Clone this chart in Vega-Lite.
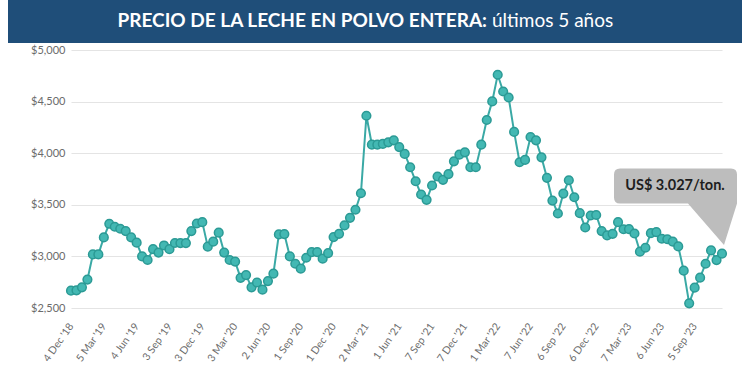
{
  "$schema": "https://vega.github.io/schema/vega-lite/v6.json",
  "padding": {"left": 8, "top": 0, "right": 0, "bottom": 0},
  "spacing": 1,
  "config": {"view": {"stroke": null}, "font": "Lato"},
  "datasets": {
    "leche": [
      {"fecha": "4 Dec '18", "precio": 2668},
      {"fecha": "18 Dec '18", "precio": 2671},
      {"fecha": "1 Jan '19", "precio": 2700},
      {"fecha": "15 Jan '19", "precio": 2775},
      {"fecha": "5 Feb '19", "precio": 3019},
      {"fecha": "19 Feb '19", "precio": 3019},
      {"fecha": "5 Mar '19", "precio": 3184},
      {"fecha": "19 Mar '19", "precio": 3316},
      {"fecha": "2 Apr '19", "precio": 3287},
      {"fecha": "16 Apr '19", "precio": 3268},
      {"fecha": "7 May '19", "precio": 3245},
      {"fecha": "21 May '19", "precio": 3184},
      {"fecha": "4 Jun '19", "precio": 3133},
      {"fecha": "18 Jun '19", "precio": 3000},
      {"fecha": "2 Jul '19", "precio": 2965},
      {"fecha": "16 Jul '19", "precio": 3070},
      {"fecha": "6 Aug '19", "precio": 3037},
      {"fecha": "20 Aug '19", "precio": 3106},
      {"fecha": "3 Sep '19", "precio": 3070},
      {"fecha": "17 Sep '19", "precio": 3130},
      {"fecha": "1 Oct '19", "precio": 3129},
      {"fecha": "15 Oct '19", "precio": 3129},
      {"fecha": "5 Nov '19", "precio": 3245},
      {"fecha": "19 Nov '19", "precio": 3319},
      {"fecha": "3 Dec '19", "precio": 3332},
      {"fecha": "17 Dec '19", "precio": 3094},
      {"fecha": "7 Jan '20", "precio": 3143},
      {"fecha": "21 Jan '20", "precio": 3230},
      {"fecha": "4 Feb '20", "precio": 3037},
      {"fecha": "18 Feb '20", "precio": 2965},
      {"fecha": "3 Mar '20", "precio": 2950},
      {"fecha": "17 Mar '20", "precio": 2792},
      {"fecha": "7 Apr '20", "precio": 2819},
      {"fecha": "21 Apr '20", "precio": 2700},
      {"fecha": "5 May '20", "precio": 2747},
      {"fecha": "19 May '20", "precio": 2678},
      {"fecha": "2 Jun '20", "precio": 2761},
      {"fecha": "16 Jun '20", "precio": 2833},
      {"fecha": "7 Jul '20", "precio": 3213},
      {"fecha": "21 Jul '20", "precio": 3216},
      {"fecha": "4 Aug '20", "precio": 3000},
      {"fecha": "18 Aug '20", "precio": 2929},
      {"fecha": "1 Sep '20", "precio": 2881},
      {"fecha": "15 Sep '20", "precio": 2987},
      {"fecha": "6 Oct '20", "precio": 3042},
      {"fecha": "20 Oct '20", "precio": 3042},
      {"fecha": "3 Nov '20", "precio": 2978},
      {"fecha": "17 Nov '20", "precio": 3032},
      {"fecha": "1 Dec '20", "precio": 3187},
      {"fecha": "15 Dec '20", "precio": 3219},
      {"fecha": "5 Jan '21", "precio": 3300},
      {"fecha": "19 Jan '21", "precio": 3374},
      {"fecha": "2 Feb '21", "precio": 3452},
      {"fecha": "16 Feb '21", "precio": 3612},
      {"fecha": "2 Mar '21", "precio": 4363},
      {"fecha": "16 Mar '21", "precio": 4083},
      {"fecha": "6 Apr '21", "precio": 4083},
      {"fecha": "20 Apr '21", "precio": 4090},
      {"fecha": "4 May '21", "precio": 4105},
      {"fecha": "18 May '21", "precio": 4125},
      {"fecha": "1 Jun '21", "precio": 4059},
      {"fecha": "15 Jun '21", "precio": 3993},
      {"fecha": "6 Jul '21", "precio": 3864},
      {"fecha": "20 Jul '21", "precio": 3728},
      {"fecha": "3 Aug '21", "precio": 3600},
      {"fecha": "17 Aug '21", "precio": 3548},
      {"fecha": "7 Sep '21", "precio": 3687},
      {"fecha": "21 Sep '21", "precio": 3774},
      {"fecha": "5 Oct '21", "precio": 3742},
      {"fecha": "19 Oct '21", "precio": 3798},
      {"fecha": "2 Nov '21", "precio": 3921},
      {"fecha": "16 Nov '21", "precio": 3986},
      {"fecha": "7 Dec '21", "precio": 4008},
      {"fecha": "21 Dec '21", "precio": 3864},
      {"fecha": "4 Jan '22", "precio": 3864},
      {"fecha": "18 Jan '22", "precio": 4083},
      {"fecha": "1 Feb '22", "precio": 4322},
      {"fecha": "15 Feb '22", "precio": 4502},
      {"fecha": "1 Mar '22", "precio": 4760},
      {"fecha": "15 Mar '22", "precio": 4598},
      {"fecha": "5 Apr '22", "precio": 4540},
      {"fecha": "19 Apr '22", "precio": 4206},
      {"fecha": "3 May '22", "precio": 3912},
      {"fecha": "17 May '22", "precio": 3935},
      {"fecha": "7 Jun '22", "precio": 4157},
      {"fecha": "21 Jun '22", "precio": 4125},
      {"fecha": "5 Jul '22", "precio": 3960},
      {"fecha": "19 Jul '22", "precio": 3761},
      {"fecha": "2 Aug '22", "precio": 3541},
      {"fecha": "16 Aug '22", "precio": 3416},
      {"fecha": "6 Sep '22", "precio": 3609},
      {"fecha": "20 Sep '22", "precio": 3738},
      {"fecha": "4 Oct '22", "precio": 3573},
      {"fecha": "18 Oct '22", "precio": 3419},
      {"fecha": "1 Nov '22", "precio": 3280},
      {"fecha": "15 Nov '22", "precio": 3396},
      {"fecha": "6 Dec '22", "precio": 3401},
      {"fecha": "20 Dec '22", "precio": 3245},
      {"fecha": "3 Jan '23", "precio": 3203},
      {"fecha": "17 Jan '23", "precio": 3219},
      {"fecha": "7 Feb '23", "precio": 3332},
      {"fecha": "21 Feb '23", "precio": 3263},
      {"fecha": "7 Mar '23", "precio": 3264},
      {"fecha": "21 Mar '23", "precio": 3222},
      {"fecha": "4 Apr '23", "precio": 3046},
      {"fecha": "18 Apr '23", "precio": 3084},
      {"fecha": "2 May '23", "precio": 3225},
      {"fecha": "16 May '23", "precio": 3235},
      {"fecha": "6 Jun '23", "precio": 3171},
      {"fecha": "20 Jun '23", "precio": 3166},
      {"fecha": "4 Jul '23", "precio": 3143},
      {"fecha": "18 Jul '23", "precio": 3097},
      {"fecha": "1 Aug '23", "precio": 2862},
      {"fecha": "15 Aug '23", "precio": 2545},
      {"fecha": "5 Sep '23", "precio": 2697},
      {"fecha": "19 Sep '23", "precio": 2794},
      {"fecha": "3 Oct '23", "precio": 2929},
      {"fecha": "17 Oct '23", "precio": 3058},
      {"fecha": "7 Nov '23", "precio": 2964},
      {"fecha": "21 Nov '23", "precio": 3027}
    ]
  },
  "vconcat": [
    {
      "width": 734,
      "height": 43,
      "view": {"fill": "#1f4e79", "stroke": null},
      "data": {"values": [{"parte1": "PRECIO DE LA LECHE EN POLVO ENTERA:", "parte2": "últimos 5 años"}]},
      "layer": [
        {
          "mark": {"type": "text", "align": "right", "baseline": "middle", "dx": 112, "dy": -1, "font": "Lato", "fontSize": 19, "fontWeight": "bold", "color": "#ffffff"},
          "encoding": {"text": {"field": "parte1"}}
        },
        {
          "mark": {"type": "text", "align": "left", "baseline": "middle", "dx": 117, "dy": -1, "font": "Lato", "fontSize": 19, "fontWeight": "normal", "color": "#ffffff"},
          "encoding": {"text": {"field": "parte2"}}
        }
      ]
    },
    {
      "spacing": 21,
      "hconcat": [
        {
          "width": 1,
          "height": 258,
          "data": {"values": []},
          "mark": {"type": "point"}
        },
        {
          "width": 651,
          "height": 258,
          "data": {"name": "leche"},
          "encoding": {
            "x": {
              "field": "fecha",
              "type": "ordinal",
              "sort": null,
              "scale": {"type": "point", "padding": 0},
              "axis": {
                "title": null,
                "values": ["4 Dec '18", "5 Mar '19", "4 Jun '19", "3 Sep '19", "3 Dec '19", "3 Mar '20", "2 Jun '20", "1 Sep '20", "1 Dec '20", "2 Mar '21", "1 Jun '21", "7 Sep '21", "7 Dec '21", "1 Mar '22", "7 Jun '22", "6 Sep '22", "6 Dec '22", "7 Mar '23", "6 Jun '23", "5 Sep '23"],
                "labelAngle": -55,
                "labelAlign": "right",
                "labelBaseline": "middle",
                "labelPadding": 16,
                "labelFont": "Lato",
                "labelFontSize": 10.5,
                "labelColor": "#6b6b6b",
                "ticks": false,
                "domain": false,
                "grid": false
              }
            },
            "y": {
              "field": "precio",
              "type": "quantitative",
              "scale": {"domain": [2500, 5000], "nice": false, "zero": false},
              "axis": {
                "title": null,
                "values": [2500, 3000, 3500, 4000, 4500, 5000],
                "format": "$,.0f",
                "labelFont": "Lato",
                "labelFontSize": 11,
                "labelColor": "#6b6b6b",
                "labelPadding": 6,
                "minExtent": 40,
                "ticks": false,
                "domain": false,
                "grid": true,
                "gridColor": "#e4e4e4",
                "gridWidth": 1.2
              }
            }
          },
          "layer": [
            {
              "mark": {"type": "line", "color": "#3aa9a5", "strokeWidth": 2}
            },
            {
              "mark": {"type": "point", "filled": true, "size": 75, "fill": "#43b8b3", "stroke": "#2b9a95", "strokeWidth": 1.5, "opacity": 1}
            },
            {
              "transform": [{"filter": "datum.fecha == \"21 Nov '23\""}],
              "mark": {
                "type": "point",
                "filled": true,
                "size": 10000,
                "fill": "#bdbdbd",
                "strokeWidth": 0,
                "opacity": 1,
                "shape": "M -2.04 -1.7 L 0.18 -1.7 Q 0.3 -1.7 0.3 -1.58 L 0.3 -1.0 L 0.04 -0.17 L -0.68 -1.0 L -2.04 -1.0 Q -2.16 -1.0 -2.16 -1.12 L -2.16 -1.58 Q -2.16 -1.7 -2.04 -1.7 Z"
              }
            },
            {
              "transform": [{"filter": "datum.fecha == \"21 Nov '23\""}],
              "mark": {"type": "text", "text": "US$ 3.027/ton.", "align": "center", "baseline": "middle", "dx": -47, "dy": -68, "font": "Lato", "fontSize": 14.5, "fontWeight": "bold", "color": "#1e1e1e"}
            }
          ]
        }
      ]
    }
  ]
}
